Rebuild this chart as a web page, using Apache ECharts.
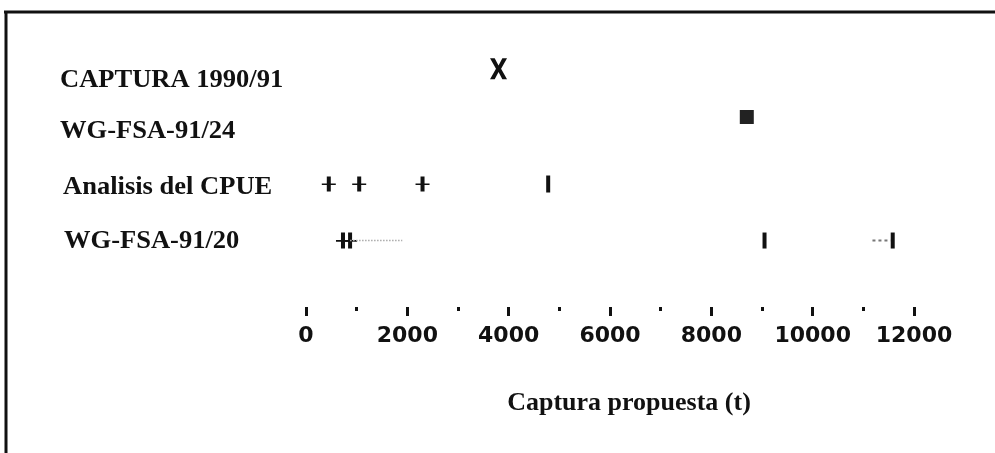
<!DOCTYPE html>
<html>
<head>
<meta charset="utf-8">
<script src="https://cdn.jsdelivr.net/npm/echarts@6/dist/echarts.min.js"></script>
<style>
html, body { margin: 0; padding: 0; background: #fff; }
#chart { width: 995px; height: 453px; }
</style>
</head>
<body>
<div id="chart"></div>
<script>
// row names, top to bottom, and the height level each row sits at
const rowNames = ['CAPTURA 1990/91', 'WG-FSA-91/24', 'Analisis del CPUE', 'WG-FSA-91/20']
const rowLevels = [4.3, 3.43, 2.22, 1.2]

// captured / proposed catch (t)
const captura = [3800]
const wg24 = [8700]
const cpueCross = [450, 1050, 2300]
const cpueBar = [4780]
const wg20Cross = [730, 870]
const wg20Bars = [9050, 11580]
const wg20Dotted = [870, 1900]
const wg20Dashed = [11180, 11540]

const xTicks = { min: 0, max: 12000, step: 2000 }

const ink = '#111'
const xPath = 'path://M0 0L5.5 0L10 7.5L14.5 0L20 0L13 11L20 22L14.5 22L10 14.5L5.5 22L0 22L7 11Z'
const plusPath = 'path://M5 0H9V7H14V8.6H9V15H5V8.6H0V7H5Z'

const pts = (vals, row) => vals.map(v => [v, rowLevels[row]])

const chart = echarts.init(document.getElementById('chart'))

const rowTextX = [60, 60, 63, 64]
const rowTextY = [80, 131, 187, 241]

const solid = { color: ink, opacity: 1 }

chart.setOption({
    animation: false,
    grid: { left: 306, right: 81, top: 30, bottom: 146 },
    xAxis: {
        type: 'value',
        min: xTicks.min,
        max: xTicks.max,
        interval: xTicks.step,
        axisLine: { show: false },
        splitLine: { show: false },
        axisTick: { show: true, length: 9, lineStyle: { color: ink, width: 3 } },
        minorTick: { show: true, splitNumber: 2, length: 4, lineStyle: { color: ink, width: 3 } },
        axisLabel: {
            margin: 18,
            color: ink,
            fontFamily: 'DejaVu Sans',
            fontWeight: 'bold',
            fontSize: 22,
            formatter: v => String(v)
        }
    },
    yAxis: { type: 'value', min: 0, max: 5, show: false },
    graphic: [
        { type: 'line', shape: { x1: 4, y1: 12, x2: 995, y2: 12 }, style: { stroke: ink, lineWidth: 3 } },
        { type: 'line', shape: { x1: 6, y1: 11, x2: 6, y2: 453 }, style: { stroke: ink, lineWidth: 3 } },
        ...rowNames.map((name, i) => ({
            type: 'text',
            x: rowTextX[i],
            y: rowTextY[i],
            scaleX: 1.02,
            style: {
                text: name,
                fontFamily: 'Liberation Serif',
                fontWeight: 'bold',
                fontSize: 26,
                fill: ink,
                textAlign: 'left',
                textVerticalAlign: 'middle'
            }
        })),
        {
            type: 'text',
            x: 629,
            y: 404,
            scaleX: 1.04,
            style: {
                text: 'Captura propuesta (t)',
                fontFamily: 'Liberation Serif',
                fontWeight: 'bold',
                fontSize: 25,
                fill: ink,
                textAlign: 'center',
                textVerticalAlign: 'middle'
            }
        }
    ],
    series: [
        {
            type: 'scatter',
            data: pts(captura, 0),
            symbol: xPath,
            symbolSize: [17, 21],
            itemStyle: solid
        },
        {
            type: 'scatter',
            data: pts(wg24, 1),
            symbol: 'rect',
            symbolSize: 14,
            itemStyle: { color: '#222', opacity: 1 }
        },
        {
            type: 'scatter',
            data: pts(cpueCross, 2),
            symbol: plusPath,
            symbolSize: [14, 15],
            itemStyle: solid
        },
        {
            type: 'scatter',
            data: pts(cpueBar, 2),
            symbol: 'rect',
            symbolSize: [4, 17],
            itemStyle: solid
        },
        {
            type: 'line',
            data: pts(wg20Dotted, 3),
            symbol: 'none',
            lineStyle: { color: '#aaa', width: 1.5, type: 'dotted' }
        },
        {
            type: 'line',
            data: pts(wg20Dashed, 3),
            symbol: 'none',
            lineStyle: { color: '#777', width: 2, type: [3, 3] }
        },
        {
            type: 'scatter',
            data: pts(wg20Cross, 3),
            symbol: plusPath,
            symbolSize: [14, 16],
            itemStyle: solid
        },
        {
            type: 'scatter',
            data: pts(wg20Bars, 3),
            symbol: 'rect',
            symbolSize: [4, 16],
            itemStyle: solid
        }
    ]
})
</script>
</body>
</html>
